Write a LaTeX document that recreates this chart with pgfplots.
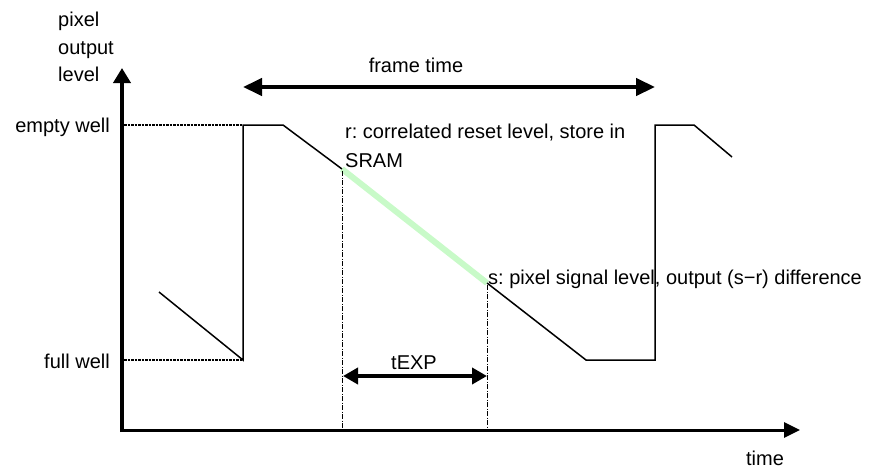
\documentclass[border=0pt]{standalone}
\usepackage{fontspec}
\setmainfont{Liberation Sans}
\usepackage{pgfplots}
\pgfplotsset{compat=1.18}
\usetikzlibrary{arrows.meta}
\definecolor{lightgreen}{RGB}{200,250,200}
\begin{document}
\fontsize{20}{24}\selectfont\frenchspacing
\begin{tikzpicture}
\begin{axis}[
  width=872pt, height=471pt, scale only axis,
  xmin=0, xmax=872, ymin=0, ymax=471,
  y dir=reverse,
  hide axis, clip=false,
]
\path (axis cs:0,0) (axis cs:872,471);
% signal waveform
\addplot[black, line width=1.5pt] coordinates {(159,292) (243,360) (243,125) (283,125) (342,169) (487,283) (586,360) (655,360) (655,125) (694,125) (732,157)};
\addplot[lightgreen, line width=6pt] coordinates {(342,169) (487,283)};
% dotted reference levels
\addplot[black, line width=1.6pt, dash pattern=on 2.5pt off 1pt] coordinates {(124,125) (243,125)};
\addplot[black, line width=1.6pt, dash pattern=on 2.5pt off 1pt] coordinates {(124,360) (243,360)};
% dash-dot verticals
\addplot[black, line width=0.8pt, dash pattern=on 5pt off 1.5pt on 1pt off 1.5pt] coordinates {(342,171) (342,430)};
\addplot[black, line width=0.8pt, dash pattern=on 5pt off 1.5pt on 1pt off 1.5pt] coordinates {(487,285) (487,430)};
% axes
\addplot[black, line width=3pt, -{Triangle[length=16pt,width=15pt]}] coordinates {(120,430) (800,430)};
\addplot[black, line width=4.5pt, -{Triangle[length=15pt,width=17pt]}] coordinates {(122,432) (122,68)};
% frame time arrow
\addplot[black, line width=4.5pt, {Triangle[length=19pt,width=17pt]}-{Triangle[length=19pt,width=17pt]}] coordinates {(243,87) (655,87)};
% tEXP arrow
\addplot[black, line width=4pt, {Triangle[length=15pt,width=16pt]}-{Triangle[length=15pt,width=16pt]}] coordinates {(343,376) (487,376)};
% texts
\node[anchor=base west, inner sep=0pt] at (axis cs:58,27) {pixel};
\node[anchor=base west, inner sep=0pt] at (axis cs:58,54) {output};
\node[anchor=base west, inner sep=0pt] at (axis cs:58,81) {level};
\node[anchor=base east, inner sep=0pt] at (axis cs:110,132) {empty well};
\node[anchor=base east, inner sep=0pt] at (axis cs:110,368) {full well};
\node[anchor=base, inner sep=0pt] at (axis cs:416,72) {frame time};
\node[anchor=base west, inner sep=0pt] at (axis cs:345,138) {r: correlated reset level, store in};
\node[anchor=base west, inner sep=0pt] at (axis cs:345,167) {SRAM};
\node[anchor=base west, inner sep=0pt] at (axis cs:488,284) {s: pixel signal level, output (s−r) difference};
\node[anchor=base, inner sep=0pt] at (axis cs:414,369) {tEXP};
\node[anchor=base, inner sep=0pt] at (axis cs:765,465) {time};
\end{axis}
\end{tikzpicture}
\end{document}
